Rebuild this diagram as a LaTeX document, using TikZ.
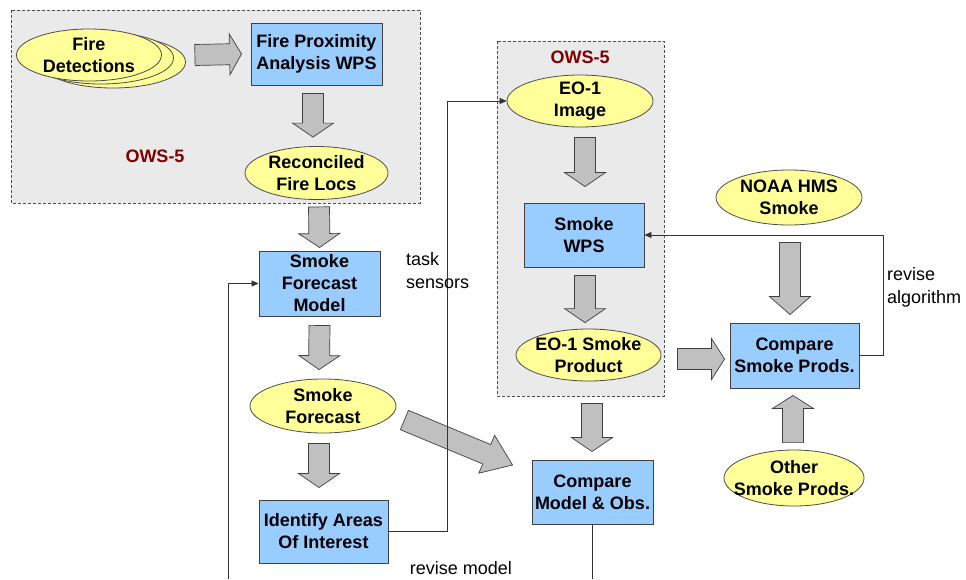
\documentclass[tikz,border=0pt]{standalone}
\usepackage{fontspec}
\setmainfont{Liberation Sans}
\usetikzlibrary{calc, shapes.geometric, arrows.meta}
\definecolor{wpsblue}{HTML}{99CCFF}
\definecolor{dataylw}{HTML}{FFFF99}
\definecolor{fatgray}{HTML}{C0C0C0}
\definecolor{owsred}{HTML}{800000}
\definecolor{panelgray}{HTML}{EAEAEA}

\begin{document}
\begin{tikzpicture}[
        x=1pt, y=-1pt,
        wps/.style={rectangle, draw=black!75, line width=0.9pt, fill=wpsblue, align=center,
            inner sep=2pt, minimum width=121pt, minimum height=64pt,
            font=\fontsize{18}{22}\selectfont\bfseries},
        data/.style={ellipse, draw=black!70, line width=0.8pt, fill=dataylw, align=center,
            inner xsep=-30pt, inner ysep=-15pt, minimum width=146pt, minimum height=53pt,
            font=\fontsize{18}{22}\selectfont\bfseries},
        panel/.style={draw=black!70, dash pattern=on 3pt off 2pt, fill=panelgray, line width=0.7pt},
        conn/.style={draw=black!80, line width=0.8pt},
        tip/.style={-{Triangle[length=7pt,width=6pt]}},
        note/.style={align=left, inner sep=0pt, font=\fontsize{18}{23}\selectfont},
        ows/.style={text=owsred, inner sep=0pt, font=\fontsize{18}{21}\selectfont\bfseries},
        fat/.style={fill=fatgray, draw=black!75, line width=0.7pt,
            to path={let \p1=($(\tikztotarget)!#1!(\tikztostart)$) in
                ($(\tikztostart)!10.5pt!90:(\tikztotarget)$) -- ($(\p1)!10.5pt!-90:(\tikztostart)$)
                -- ($(\p1)!20.5pt!-90:(\tikztostart)$) -- (\tikztotarget)
                -- ($(\p1)!20.5pt!90:(\tikztostart)$) -- ($(\p1)!10.5pt!90:(\tikztostart)$)
                -- ($(\tikztostart)!10.5pt!-90:(\tikztotarget)$) -- cycle}},
        fat/.default=14pt
    ]
        \useasboundingbox (0,0) rectangle (966,579);

        % OWS-5 panels
        \draw[panel] (11,10) rectangle (420,203);
        \draw[panel] (497,41) rectangle (664,396);
        \node[ows] (ows1) at (155,156) {OWS-5};
        \node[ows] (ows2) at (580,57) {OWS-5};

        % Fire side
        \node[data, minimum width=145pt, minimum height=52pt] (fd3) at (113,62) {};
        \node[data, minimum width=145pt, minimum height=52pt] (fd2) at (101,58) {};
        \node[data, minimum width=145pt, minimum height=52pt] (fd) at (89,55) {Fire\\Detections};
        \node[wps, minimum width=131pt, minimum height=62pt] (fpa) at (316.5,54) {Fire Proximity\\Analysis WPS};
        \node[data, minimum width=143pt] (rfl) at (316.5,173) {Reconciled\\Fire Locs};

        % Model side
        \node[wps, minimum height=65pt] (sfm) at (319.5,283.5) {Smoke\\Forecast\\Model};
        \node[data, minimum height=54pt] (sf) at (323,406) {Smoke\\Forecast};
        \node[wps, minimum width=129pt, minimum height=63pt] (iai) at (323.5,531.5) {Identify Areas\\Of Interest};

        % Observation side
        \node[data, minimum height=52pt] (eoi) at (580,101) {EO-1\\Image};
        \node[wps, minimum width=120pt] (swps) at (584,235) {Smoke\\WPS};
        \node[data, minimum width=145pt, minimum height=52pt] (eosp) at (588.5,355) {EO-1 Smoke\\Product};
        \node[wps] (cmo) at (592.5,492) {Compare\\Model \& Obs.};

        % Other products
        \node[data, minimum height=55pt] (noaa) at (789,197.5) {NOAA HMS\\Smoke};
        \node[wps, minimum width=129pt, minimum height=65pt] (csp) at (794.5,355.5) {Compare\\Smoke Prods.};
        \node[data, minimum width=140pt, minimum height=56pt] (osp) at (794,478) {Other\\Smoke Prods.};

        % Block arrows
        \draw[fat=12pt] ($(fd.east)+(33,0)$) to ($(fpa.west)+(-9,0)$);
        \draw[fat] ($(fpa.south)+(-3.5,8)$) to ($(rfl.north)+(-3.5,-9)$);
        \draw[fat] ($(rfl.south)+(2.5,7)$) to ($(sfm.north)+(0,-3)$);
        \draw[fat] ($(sfm.south)+(0,9)$) to ($(sf.north)+(-4,-9)$);
        \draw[fat] ($(sf.south)+(-4,10)$) to ($(iai.north)+(-4.5,-12)$);
        \draw[fat=28pt] ($(sf.east)+(8,14)$) to ($(cmo.west)+(-19,-27)$);
        \draw[fat] ($(eoi.south)+(5,10)$) to ($(swps.north)+(1,-16)$);
        \draw[fat] ($(swps.south)+(1,8)$) to ($(eosp.north)+(-3.5,-6)$);
        \draw[fat] ($(eosp.south)+(3.5,22)$) to ($(cmo.north)+(-0.5,-8)$);
        \draw[fat=13pt] ($(eosp.east)+(16,4)$) to ($(csp.west)+(-5,3.5)$);
        \draw[fat=18pt] ($(noaa.south)+(1,17)$) to ($(csp.north)+(-4.5,-8)$);
        \draw[fat=13pt] ($(osp.north)+(-1,-7)$) to ($(csp.south)+(-1.5,7)$);

        % Feedback lines
        \coordinate (loopend) at (228,579);
        \coordinate (cmoend) at (cmo.south |- loopend);
        \draw[conn, tip] (iai.east) -| ($(eoi.west)+(-59,0)$) -- (eoi.west);
        \draw[conn, tip] (loopend) |- (sfm.west);
        \draw[conn] (cmo.south) -- (cmoend);
        \draw[conn, tip] (csp.east) -| ($(swps.east)+(239,0)$) -- (swps.east);

        \node[note, anchor=west] (tasklbl) at (406,271) {task\\sensors};
        \node[note, anchor=west] (alglbl) at (887,287) {revise\\algorithm};
        \node[note] (modlbl) at (461,568) {revise model};
    \end{tikzpicture}
\end{document}
